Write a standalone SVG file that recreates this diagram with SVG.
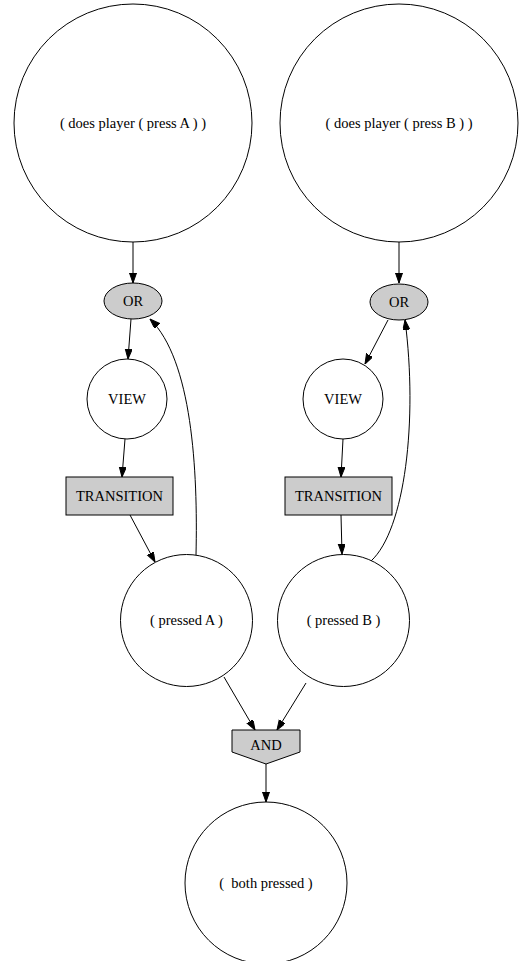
<svg xmlns="http://www.w3.org/2000/svg" width="520" height="961" viewBox="0 0 520 961">
<style>
.n{fill:#fff;stroke:#000;stroke-width:1}
.g{fill:#cccccc;stroke:#000;stroke-width:1}
text{font-family:"Liberation Serif","DejaVu Serif","Times New Roman",serif;font-size:14.5px;fill:#000;text-anchor:middle}
.e{fill:none;stroke:#000;stroke-width:1;marker-end:url(#ah)}
</style>
<defs>
<marker id="ah" markerUnits="userSpaceOnUse" markerWidth="10" markerHeight="8" refX="10" refY="3.5" orient="auto">
<path d="M0,0 L10,3.5 L0,7 z" fill="#000" stroke="#000" stroke-width="1"/>
</marker>
</defs>
<rect width="520" height="961" fill="#fff"/>
<g id="connectors">
<path class="e" d="M133,242 L133,283"/>
<path class="e" d="M131,319 L128,359"/>
<path class="e" d="M125,439 L122,477"/>
<path class="e" d="M130,515 L155,562"/>
<path class="e" d="M196,555 C198,470 192,360 150,319"/>
<path class="e" d="M224,677 L255,730"/>
<path class="e" d="M399,242 L399,283"/>
<path class="e" d="M388,320 L365,364"/>
<path class="e" d="M343,439 L341,477"/>
<path class="e" d="M341,515 L342,554"/>
<path class="e" d="M371,561 C405,530 418,420 405,320"/>
<path class="e" d="M306,683 L277,730"/>
<path class="e" d="M266,764 L266,802"/>
</g>
<g id="doesA"><circle class="n" cx="133" cy="123" r="119"/><text x="133" y="128">( does player ( press A ) )</text></g>
<g id="doesB"><circle class="n" cx="399" cy="123" r="119"/><text x="399" y="128">( does player ( press B ) )</text></g>
<g id="orA"><ellipse class="g" cx="133" cy="301" rx="29" ry="18"/><text x="133" y="306">OR</text></g>
<g id="orB"><ellipse class="g" cx="399" cy="302" rx="29" ry="18"/><text x="399" y="307">OR</text></g>
<g id="viewA"><circle class="n" cx="127" cy="399" r="40"/><text x="127" y="404">VIEW</text></g>
<g id="viewB"><circle class="n" cx="343" cy="399" r="40"/><text x="343" y="404">VIEW</text></g>
<g id="transA"><rect class="g" x="66" y="477" width="107" height="38"/><text x="119.5" y="501">TRANSITION</text></g>
<g id="transB"><rect class="g" x="285" y="477" width="107" height="38"/><text x="338.5" y="501">TRANSITION</text></g>
<g id="pressedA"><circle class="n" cx="186.5" cy="620.5" r="66"/><text x="186.5" y="625">( pressed A )</text></g>
<g id="pressedB"><circle class="n" cx="343.5" cy="620.5" r="66"/><text x="343.5" y="625">( pressed B )</text></g>
<g id="and"><polygon class="g" points="232,730 300,730 300,752 266,764 232,752"/><text x="266" y="750">AND</text></g>
<g id="both"><circle class="n" cx="266" cy="883" r="81"/><text x="266" y="888" xml:space="preserve">(  both pressed )</text></g>
</svg>
